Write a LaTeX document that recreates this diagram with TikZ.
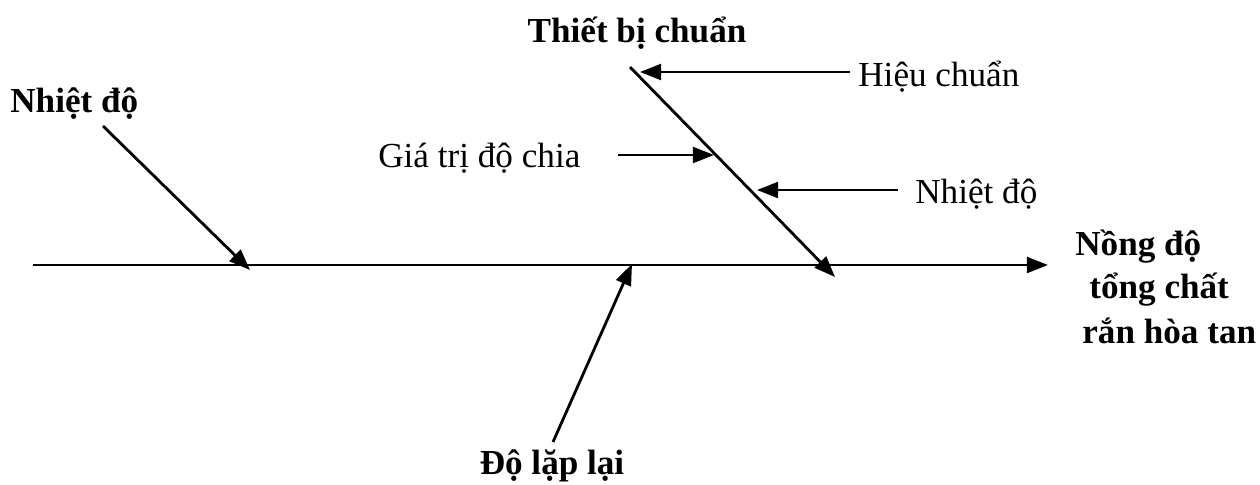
\documentclass[tikz,border=0pt]{standalone}
\usepackage{fontspec}
\setmainfont{Liberation Serif}
\usetikzlibrary{arrows.meta}
\begin{document}
\begin{tikzpicture}[x=0.02cm,y=-0.02cm,
  ln/.style={line width=1.6pt},
  arr/.style={ln,-{Triangle[length=12pt,width=9pt]}},
  lbl/.style={inner sep=0pt,font=\fontsize{20}{24}\selectfont},
  blbl/.style={lbl,font=\fontsize{20}{24}\selectfont\bfseries}]
\useasboundingbox (0,0) rectangle (1260,484);
% spine
\coordinate (s0) at (33,265);
\coordinate (s1) at (1048,265);
\draw[arr] (s0) -- (s1);
% bones
\coordinate (l0) at (103,126);
\coordinate (l1) at (250,270);
\draw[arr] (l0) -- (l1);
\coordinate (t0) at (630,67);
\coordinate (t1) at (835,277);
\draw[arr] (t0) -- (t1);
\coordinate (b0) at (553,442);
\coordinate (b1) at (632,264);
\draw[arr] (b0) -- (b1);
% sub-causes
\coordinate (h0) at (850,72);
\coordinate (h1) at (640,72);
\draw[arr] (h0) -- (h1);
\coordinate (g0) at (618,155);
\coordinate (g1) at (714,155);
\draw[arr] (g0) -- (g1);
\coordinate (n0) at (898,190);
\coordinate (n1) at (757,190);
\draw[arr] (n0) -- (n1);
% labels
\node[blbl,anchor=base] (tb) at (637,42) {Thiết bị chuẩn};
\node[lbl,anchor=base west] (hc) at (858,86) {Hiệu chuẩn};
\node[lbl,anchor=base west] (gt) at (378,167) {Giá trị độ chia};
\node[lbl,anchor=base west] (nd2) at (915,203) {Nhiệt độ};
\node[blbl,anchor=base west] (nd1) at (10,112) {Nhiệt độ};
\node[blbl,anchor=base west] (r1) at (1075,255) {Nồng độ};
\node[blbl,anchor=base west] (r2) at (1089,298) {tổng chất};
\node[blbl,anchor=base west] (r3) at (1082,343) {rắn hòa tan};
\node[blbl,anchor=base] (dl) at (552,474) {Độ lặp lại};
\end{tikzpicture}
\end{document}
